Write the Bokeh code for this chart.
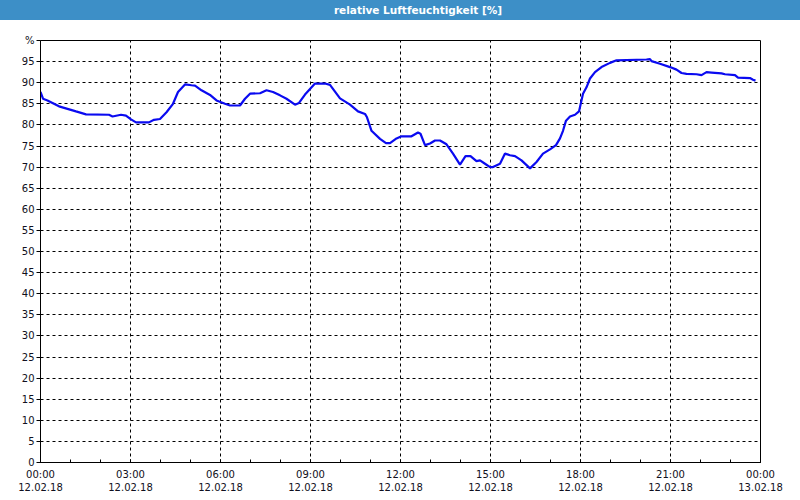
from bokeh.plotting import figure
from bokeh.models import FixedTicker, ColumnDataSource, Div
from bokeh.layouts import column
from bokeh.embed import file_html
from bokeh.resources import INLINE

TITLE = "relative Luftfeuchtigkeit [%]"
Y_UNIT = "%"

times = ["00:00", "00:05", "00:14", "00:24", "00:37", "00:54", "01:11", "01:31", "02:17", "02:24",
         "02:41", "02:51", "03:01", "03:11", "03:37", "03:47", "03:59", "04:12", "04:25", "04:35",
         "04:49", "05:02", "05:09", "05:22", "05:39", "05:52", "06:09", "06:19", "06:39", "06:49",
         "06:59", "07:19", "07:32", "07:45", "07:59", "08:12", "08:29", "08:37", "08:49", "09:09",
         "09:29", "09:39", "09:59", "10:19", "10:35", "10:49", "10:53", "11:02", "11:19", "11:31",
         "11:39", "11:52", "12:02", "12:22", "12:35", "12:40", "12:49", "12:59", "13:09", "13:19",
         "13:32", "13:45", "13:59", "14:10", "14:20", "14:32", "14:39", "14:49", "14:59", "15:05",
         "15:19", "15:29", "15:39", "15:49", "16:02", "16:19", "16:32", "16:45", "16:59", "17:11",
         "17:19", "17:25", "17:31", "17:39", "17:49", "17:57", "18:05", "18:12", "18:19", "18:29",
         "18:42", "18:59", "19:12", "20:12", "20:19", "20:22", "20:39", "20:59", "21:12", "21:22",
         "21:32", "21:52", "22:02", "22:12", "22:22", "22:42", "22:49", "23:09", "23:15", "23:39",
         "23:45", "23:50"]

humidity = [87.8, 86.2, 85.8, 85.2, 84.4, 83.8, 83.2, 82.5, 82.4, 82.0,
            82.4, 82.2, 81.3, 80.6, 80.6, 81.2, 81.4, 83.0, 85.0, 87.8,
            89.6, 89.4, 89.3, 88.2, 87.1, 85.8, 85.0, 84.6, 84.6, 86.2,
            87.4, 87.5, 88.2, 87.8, 87.0, 86.2, 84.8, 85.2, 87.2, 89.8,
            89.8, 89.5, 86.3, 84.8, 83.2, 82.6, 81.8, 78.6, 76.7, 75.7,
            75.7, 76.8, 77.3, 77.3, 78.2, 77.9, 75.2, 75.6, 76.3, 76.3,
            75.4, 73.2, 70.6, 72.6, 72.6, 71.4, 71.6, 70.8, 70.0, 70.0,
            70.8, 73.2, 72.8, 72.6, 71.6, 69.7, 71.2, 73.2, 74.2, 75.2,
            76.8, 78.6, 81.0, 82.0, 82.4, 83.2, 87.4, 88.9, 91.0, 92.5,
            93.7, 94.7, 95.3, 95.5, 95.6, 95.1, 94.5, 93.7, 93.1, 92.3,
            92.1, 92.0, 91.8, 92.5, 92.4, 92.2, 92.0, 91.8, 91.2, 91.1,
            90.7, 90.5]

x_ticks = [0, 3, 6, 9, 12, 15, 18, 21, 24]
x_tick_labels = ["00:00\n12.02.18", "03:00\n12.02.18", "06:00\n12.02.18", "09:00\n12.02.18",
                 "12:00\n12.02.18", "15:00\n12.02.18", "18:00\n12.02.18", "21:00\n12.02.18",
                 "00:00\n13.02.18"]
x_minor = list(range(0, 25))
y_ticks = list(range(0, 105, 5))

hours = [int(t[:2]) + int(t[3:]) / 60.0 for t in times]
src = ColumnDataSource(data=dict(h=hours, rh=humidity))

BAR = "#3d8fc7"
FONT = "DejaVu Sans"

title_div = Div(
    text=(f'<div style="position:relative;width:800px;height:20px;background:{BAR};">'
          f'<span style="position:absolute;left:418px;top:50%;transform:translate(-50%,-50%);'
          f'white-space:nowrap;color:white;font-weight:bold;font-family:\'{FONT}\';'
          f'font-size:10.5px;">{TITLE}</span></div>'),
    width=800, height=20, margin=0)

p = figure(width=800, height=480, x_range=(0, 24), y_range=(0, 100), toolbar_location=None,
           output_backend="svg", min_border_left=40, min_border_right=40,
           min_border_top=20, min_border_bottom=38)
p.background_fill_color = "white"
p.border_fill_color = "white"
p.outline_line_color = "black"
p.outline_line_width = 1

p.xaxis.ticker = FixedTicker(ticks=x_ticks, minor_ticks=x_minor)
p.xaxis.major_label_overrides = {t: lab for t, lab in zip(x_ticks, x_tick_labels)}
p.yaxis.ticker = FixedTicker(ticks=y_ticks)
p.yaxis.major_label_overrides = {100: Y_UNIT}

for ax in (p.xaxis, p.yaxis):
    ax.axis_line_color = "black"
    ax.major_tick_line_color = "black"
    ax.minor_tick_line_color = "black"
    ax.major_label_text_font = FONT
    ax.major_label_text_font_size = "10px"
    ax.major_label_text_color = "#101020"

p.xaxis.major_tick_in = 3
p.xaxis.major_tick_out = 0
p.xaxis.minor_tick_in = 3
p.xaxis.minor_tick_out = 0
p.xaxis.major_label_standoff = 6
p.yaxis.major_tick_in = 0
p.yaxis.major_tick_out = 4
p.yaxis.minor_tick_line_color = None
p.yaxis.major_label_standoff = 2

for g in (p.xgrid, p.ygrid):
    g.grid_line_color = "black"
    g.grid_line_dash = "3 3"
    g.grid_line_width = 1
    g.grid_line_alpha = 1.0

p.line("h", "rh", source=src, line_color="#0a0af0", line_width=2.2)

layout = column(title_div, p, spacing=0)
open("out.html", "w").write(file_html(layout, INLINE))
